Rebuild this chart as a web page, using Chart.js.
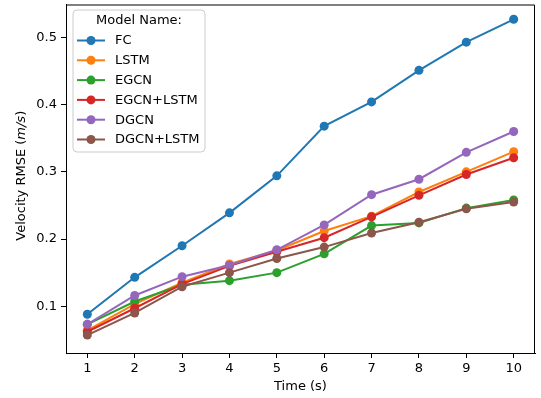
<!DOCTYPE html>
<html lang="en">
<head>
<meta charset="UTF-8" />
<title>Velocity RMSE by model</title>
<script src="https://cdn.jsdelivr.net/npm/chart.js"></script>
<style>
  html, body { margin: 0; padding: 0; background: #fff; }
  #wrap { width: 541px; height: 398px; }
</style>
</head>
<body>
<div id="wrap"><canvas id="rmseChart" width="541" height="398"></canvas></div>
<script>
// time steps (s) on the x axis
const timeSteps = [1, 2, 3, 4, 5, 6, 7, 8, 9, 10];
const yTicks = [0.1, 0.2, 0.3, 0.4, 0.5];

const modelNames = ["FC", "LSTM", "EGCN", "EGCN+LSTM", "DGCN", "DGCN+LSTM"];
const modelColors = ["#1f77b4", "#ff7f0e", "#2ca02c", "#d62728", "#9467bd", "#8c564b"];

// velocity RMSE (m/s)
const fcRmse       = [0.088, 0.143, 0.190, 0.239, 0.294, 0.368, 0.404, 0.451, 0.493, 0.527];
const lstmRmse     = [0.064, 0.103, 0.135, 0.163, 0.183, 0.212, 0.234, 0.270, 0.300, 0.330];
const egcnRmse     = [0.073, 0.107, 0.132, 0.138, 0.150, 0.178, 0.220, 0.224, 0.246, 0.258];
const egcnLstmRmse = [0.062, 0.097, 0.133, 0.160, 0.181, 0.202, 0.233, 0.265, 0.296, 0.321];
const dgcnRmse     = [0.073, 0.116, 0.144, 0.161, 0.184, 0.221, 0.266, 0.289, 0.329, 0.360];
const dgcnLstmRmse = [0.057, 0.090, 0.129, 0.150, 0.171, 0.188, 0.209, 0.225, 0.245, 0.255];

const seriesValues = [fcRmse, lstmRmse, egcnRmse, egcnLstmRmse, dgcnRmse, dgcnLstmRmse];

const FONT = "'DejaVu Sans', sans-serif";

const datasets = modelNames.map((name, i) => ({
  label: name,
  data: timeSteps.map((t, k) => ({ x: t, y: seriesValues[i][k] })),
  borderColor: modelColors[i],
  backgroundColor: modelColors[i],
  borderWidth: 2,
  pointRadius: 4.5,
  pointBorderWidth: 0,
  pointBackgroundColor: modelColors[i],
  tension: 0,
  order: modelNames.length - i // later models drawn on top, like matplotlib
}));

// frame, titles and in-plot legend (matplotlib style)
const decorPlugin = {
  id: "decor",
  afterDatasetsDraw(chart) {
    const ctx = chart.ctx;
    const a = chart.chartArea;
    ctx.save();
    // top & right spines
    ctx.strokeStyle = "#000";
    ctx.lineWidth = 1;
    ctx.beginPath();
    ctx.moveTo(a.left, a.top + 0.5);
    ctx.lineTo(a.right - 0.5, a.top + 0.5);
    ctx.lineTo(a.right - 0.5, a.bottom);
    ctx.stroke();

    // legend box
    const bx = 73, by = 10, bw = 132, bh = 142, r = 4;
    ctx.beginPath();
    ctx.moveTo(bx + r, by);
    ctx.arcTo(bx + bw, by, bx + bw, by + bh, r);
    ctx.arcTo(bx + bw, by + bh, bx, by + bh, r);
    ctx.arcTo(bx, by + bh, bx, by, r);
    ctx.arcTo(bx, by, bx + bw, by, r);
    ctx.closePath();
    ctx.fillStyle = "rgba(255,255,255,0.8)";
    ctx.fill();
    ctx.strokeStyle = "#cccccc";
    ctx.stroke();

    ctx.fillStyle = "#000";
    ctx.font = "13px " + FONT;
    ctx.textAlign = "center";
    ctx.textBaseline = "middle";
    ctx.fillText("Model Name:", bx + bw / 2, 21);

    ctx.textAlign = "left";
    chart.data.datasets.forEach((ds, i) => {
      const y = 40.5 + i * 19.8;
      ctx.strokeStyle = ds.borderColor;
      ctx.lineWidth = 2;
      ctx.beginPath();
      ctx.moveTo(77, y);
      ctx.lineTo(105, y);
      ctx.stroke();
      ctx.fillStyle = ds.borderColor;
      ctx.beginPath();
      ctx.arc(91, y, 4.5, 0, Math.PI * 2);
      ctx.fill();
      ctx.fillStyle = "#000";
      ctx.fillText(ds.label, 115, y + 0.5);
    });

    // x axis title
    ctx.textAlign = "center";
    ctx.fillText("Time (s)", (a.left + a.right) / 2, 387);

    // y axis title with italic unit
    const parts = [
      ["Velocity RMSE (", "13px " + FONT],
      ["m/s", "italic 13px " + FONT],
      [")", "13px " + FONT]
    ];
    let total = 0;
    parts.forEach(p => { ctx.font = p[1]; total += ctx.measureText(p[0]).width; });
    ctx.translate(22, (a.top + a.bottom) / 2 - 3);
    ctx.rotate(-Math.PI / 2);
    ctx.textAlign = "left";
    let x = -total / 2;
    parts.forEach(p => {
      ctx.font = p[1];
      ctx.fillText(p[0], x, 0);
      x += ctx.measureText(p[0]).width;
    });
    ctx.restore();
  }
};

const tickFont = { family: FONT, size: 13 };

new Chart(document.getElementById("rmseChart"), {
  type: "line",
  data: { datasets },
  options: {
    responsive: false,
    animation: false,
    layout: { padding: { top: 3, right: 6, left: 0, bottom: 0 } },
    plugins: {
      legend: { display: false },
      tooltip: { enabled: false }
    },
    scales: {
      x: {
        type: "linear",
        min: 0.55,
        max: 10.45,
        afterBuildTicks: (s) => { s.ticks = timeSteps.map(v => ({ value: v })); },
        afterFit: (s) => { s.height = 45; s.paddingLeft = 0; s.paddingRight = 0; },
        grid: { drawOnChartArea: false, drawTicks: true, tickLength: 5, color: "#000" },
        border: { display: true, color: "#000", width: 1 },
        ticks: { color: "#000", font: tickFont, padding: 3, maxRotation: 0, autoSkip: false }
      },
      y: {
        type: "linear",
        min: 0.0304,
        max: 0.549,
        afterBuildTicks: (s) => { s.ticks = yTicks.map(v => ({ value: v })); },
        afterFit: (s) => { s.width = 66; s.paddingTop = 0; s.paddingBottom = 0; },
        grid: { drawOnChartArea: false, drawTicks: true, tickLength: 5, color: "#000" },
        border: { display: true, color: "#000", width: 1 },
        ticks: {
          color: "#000",
          font: tickFont,
          padding: 4,
          autoSkip: false,
          callback: (v) => Number(v).toFixed(1)
        }
      }
    }
  },
  plugins: [decorPlugin]
});
</script>
</body>
</html>
